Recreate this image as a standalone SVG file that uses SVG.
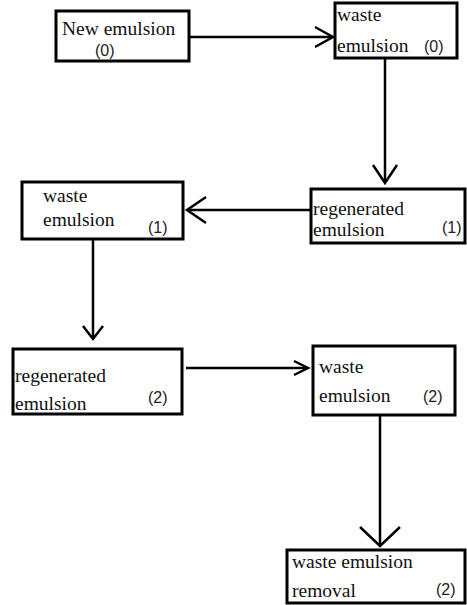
<svg xmlns="http://www.w3.org/2000/svg" width="467" height="605" viewBox="0 0 467 605">
<style>
.box{fill:#fff;stroke:#000;stroke-width:3}
.t{font-family:"Liberation Serif","Times New Roman",serif;font-size:19.5px;fill:#111}
.n{font-family:"Liberation Sans",Arial,sans-serif;font-size:16px;fill:#222}
.c{fill:none;stroke:#000;stroke-width:2.5}
.h{fill:none;stroke:#000;stroke-width:2.5;stroke-linejoin:miter}
</style>
<g id="connectors">
<line class="c" x1="189" y1="37" x2="332" y2="37"/>
<path class="h" d="M315,27 L333,37 L315,47"/>
<line class="c" x1="385" y1="58" x2="385" y2="182"/>
<path class="h" d="M373,165 L385,183 L397,165"/>
<line class="c" x1="311" y1="210" x2="188" y2="210"/>
<path class="h" d="M206,197 L187,210 L206,223"/>
<line class="c" x1="93" y1="239" x2="93" y2="338"/>
<path class="h" d="M83,326 L93,339 L103,326"/>
<line class="c" x1="186" y1="368" x2="307" y2="368"/>
<path class="h" d="M294,361 L308,368 L294,375"/>
<line class="c" x1="380" y1="415" x2="380" y2="545"/>
<path class="h" d="M360,527 L380,546 L400,527"/>
</g>
<g id="n0">
<rect class="box" x="56" y="11" width="133" height="50"/>
<text class="t" x="62" y="35">New emulsion</text>
<text class="n" x="95" y="56">(0)</text>
</g>
<g id="n1">
<rect class="box" x="335" y="3" width="122" height="55"/>
<text class="t" x="337" y="21">waste</text>
<text class="t" x="337" y="52">emulsion</text>
<text class="n" x="424" y="52">(0)</text>
</g>
<g id="n2">
<rect class="box" x="311" y="189" width="154" height="54"/>
<text class="t" x="313" y="215">regenerated</text>
<text class="t" x="313" y="236">emulsion</text>
<text class="n" x="442" y="233">(1)</text>
</g>
<g id="n3">
<rect class="box" x="22" y="182" width="161" height="57"/>
<text class="t" x="43" y="202">waste</text>
<text class="t" x="43" y="226">emulsion</text>
<text class="n" x="148" y="233">(1)</text>
</g>
<g id="n4">
<rect class="box" x="13" y="349" width="169" height="65"/>
<text class="t" x="15" y="382">regenerated</text>
<text class="t" x="15" y="410">emulsion</text>
<text class="n" x="148" y="403">(2)</text>
</g>
<g id="n5">
<rect class="box" x="313" y="346" width="142" height="69"/>
<text class="t" x="319" y="373">waste</text>
<text class="t" x="319" y="402">emulsion</text>
<text class="n" x="423" y="402">(2)</text>
</g>
<g id="n6">
<rect class="box" x="287" y="550" width="178" height="53"/>
<text class="t" x="292" y="568">waste emulsion</text>
<text class="t" x="292" y="597">removal</text>
<text class="n" x="436" y="595">(2)</text>
</g>
</svg>
